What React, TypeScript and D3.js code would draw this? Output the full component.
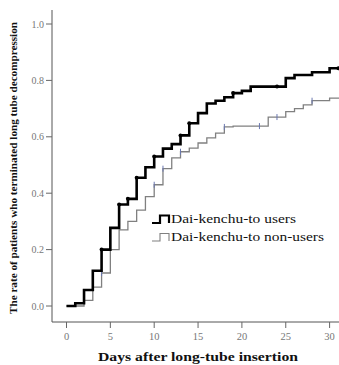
import React from "react";
import * as d3 from "d3";

const usersTimes = [0, 1, 2, 3, 4, 5, 6, 7, 8, 9, 10, 11, 12, 13, 14, 15, 16, 17, 18, 19, 20, 21, 25, 26, 28, 30];
const usersValues = [0, 0.01, 0.057, 0.125, 0.2, 0.277, 0.36, 0.38, 0.455, 0.492, 0.53, 0.558, 0.574, 0.605, 0.648, 0.684, 0.718, 0.728, 0.74, 0.755, 0.763, 0.778, 0.808, 0.819, 0.829, 0.843];
const usersCensorTimes = [4, 6, 7, 8, 10, 13, 14, 19, 24, 31];

const nonUsersTimes = [0, 2, 3, 4, 5, 6, 7, 8, 9, 10, 11, 12, 13, 14, 15, 16, 17, 18, 19, 23, 25, 26, 27, 28, 30];
const nonUsersValues = [0, 0.02, 0.067, 0.117, 0.2, 0.27, 0.3, 0.34, 0.388, 0.43, 0.487, 0.525, 0.547, 0.56, 0.578, 0.596, 0.613, 0.635, 0.638, 0.67, 0.689, 0.7, 0.713, 0.728, 0.737];
const nonUsersCensorTimes = [4, 10, 11, 13, 18, 22, 24, 28];

const xTicks = [0, 5, 10, 15, 20, 25, 30];
const yTicks = [0, 0.2, 0.4, 0.6, 0.8, 1.0];
const legendLabels = ["Dai-kenchu-to users", "Dai-kenchu-to non-users"];
const xTitle = "Days after long-tube insertion";
const yTitle = "The rate of patients who terminated long tube decompression";

const END = 31.1;

function stepAt(times: number[], values: number[], t: number) {
  let v = values[0];
  for (let i = 0; i < times.length; i++) if (times[i] <= t) v = values[i];
  return v;
}

export default function App() {
  const W = 339, H = 365;
  const x = d3.scaleLinear().domain([0, 30]).range([66.5, 329.6]);
  const y = d3.scaleLinear().domain([0, 1]).range([306, 24]);
  const axisX = 52, axisY = 322;
  const ff = { fontFamily: '"Liberation Serif"' };

  const line = d3.line<[number, number]>().x(d => x(d[0])).y(d => y(d[1])).curve(d3.curveStepAfter);
  const usersPts: [number, number][] = usersTimes.map((t, i) => [t, usersValues[i]]);
  usersPts.push([END, usersValues[usersValues.length - 1]]);
  const nonPts: [number, number][] = nonUsersTimes.map((t, i) => [t, nonUsersValues[i]]);
  nonPts.push([END, nonUsersValues[nonUsersValues.length - 1]]);

  return (
    <svg width={W} height={H} style={{ position: "absolute", left: 0, top: 0, background: "#fff" }}>
      <rect width={W} height={H} fill="#fff" />
      <line x1={axisX} x2={axisX} y1={10} y2={axisY} stroke="#555" strokeWidth={1} />
      <line x1={axisX} x2={W} y1={axisY} y2={axisY} stroke="#555" strokeWidth={1} />
      {yTicks.map(v => (
        <g key={"y" + v}>
          <line x1={axisX - 6} x2={axisX} y1={y(v)} y2={y(v)} stroke="#666" />
          <text x={axisX - 8} y={y(v)} dy="0.35em" textAnchor="end" fontSize={10} fill="#777" style={ff}>{v.toFixed(1)}</text>
        </g>
      ))}
      {xTicks.map(v => (
        <g key={"x" + v}>
          <line x1={x(v)} x2={x(v)} y1={axisY} y2={axisY + 6} stroke="#666" />
          <text x={x(v)} y={axisY + 18} textAnchor="middle" fontSize={10.5} fill="#777" style={ff}>{v}</text>
        </g>
      ))}
      <text x={198} y={361} textAnchor="middle" fontSize={13.5} fontWeight="bold" style={ff} fill="#111" textLength={200} lengthAdjust="spacingAndGlyphs">{xTitle}</text>
      <text transform={`translate(17,168) rotate(-90)`} textAnchor="middle" fontSize={10} fontWeight="bold" style={ff} fill="#111" textLength={292} lengthAdjust="spacingAndGlyphs">{yTitle}</text>

      <path d={line(nonPts) || ""} fill="none" stroke="#808080" strokeWidth={1.3} />
      {nonUsersCensorTimes.map(t => {
        const v = stepAt(nonUsersTimes, nonUsersValues, t);
        return <line key={"nc" + t} x1={x(t)} x2={x(t)} y1={y(v) - 3} y2={y(v) + 3} stroke="#6a78b0" strokeWidth={1} />;
      })}
      <path d={line(usersPts) || ""} fill="none" stroke="#000" strokeWidth={2.6} />
      {usersCensorTimes.map(t => {
        const v = stepAt(usersTimes, usersValues, t);
        return <circle key={"uc" + t} cx={x(Math.min(t, END - 0.05))} cy={y(v)} r={2} fill="#000" />;
      })}

      <path d="M152,223 H160 V215.5 H169 V223" fill="none" stroke="#000" strokeWidth={2.2} />
      <text x={171} y={223} fontSize={13} style={ff} fill="#111" textLength={125} lengthAdjust="spacingAndGlyphs">{legendLabels[0]}</text>
      <path d="M152,241 H160 V233.5 H169 V241" fill="none" stroke="#808080" strokeWidth={1.1} />
      <text x={171} y={241} fontSize={13} style={ff} fill="#111" textLength={153} lengthAdjust="spacingAndGlyphs">{legendLabels[1]}</text>
    </svg>
  );
}
